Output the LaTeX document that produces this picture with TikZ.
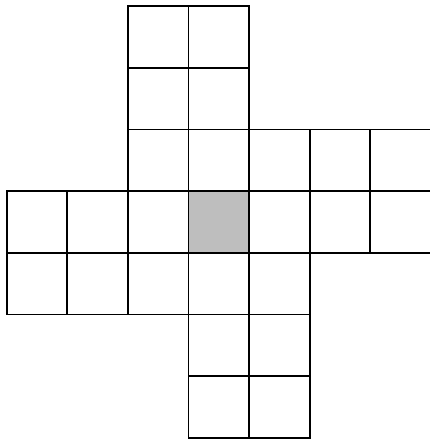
\documentclass[tikz,border=0pt]{standalone}
\definecolor{cellgray}{RGB}{190,190,190}
\begin{document}
\begin{tikzpicture}[x=1pt,y=-1pt,cellbox/.style={draw=black,line width=1.8pt}]
\useasboundingbox (0,0) rectangle (430,440);
\clip (0,0) rectangle (430,440);
\def\cw{60.6}\def\ch{61.7}\def\ox{6.7}\def\oy{6}
\fill[cellgray] (\ox+3*\cw,\oy+3*\ch) rectangle (\ox+4*\cw,\oy+4*\ch);
\foreach \c/\r in {2/0,3/0,2/1,3/1,2/2,3/2,4/2,5/2,6/2,0/3,1/3,2/3,3/3,4/3,5/3,6/3,0/4,1/4,2/4,3/4,4/4,3/5,4/5,3/6,4/6}{
  \draw[cellbox] (\ox+\c*\cw,\oy+\r*\ch) rectangle (\ox+\c*\cw+\cw,\oy+\r*\ch+\ch);
}
\end{tikzpicture}
\end{document}
